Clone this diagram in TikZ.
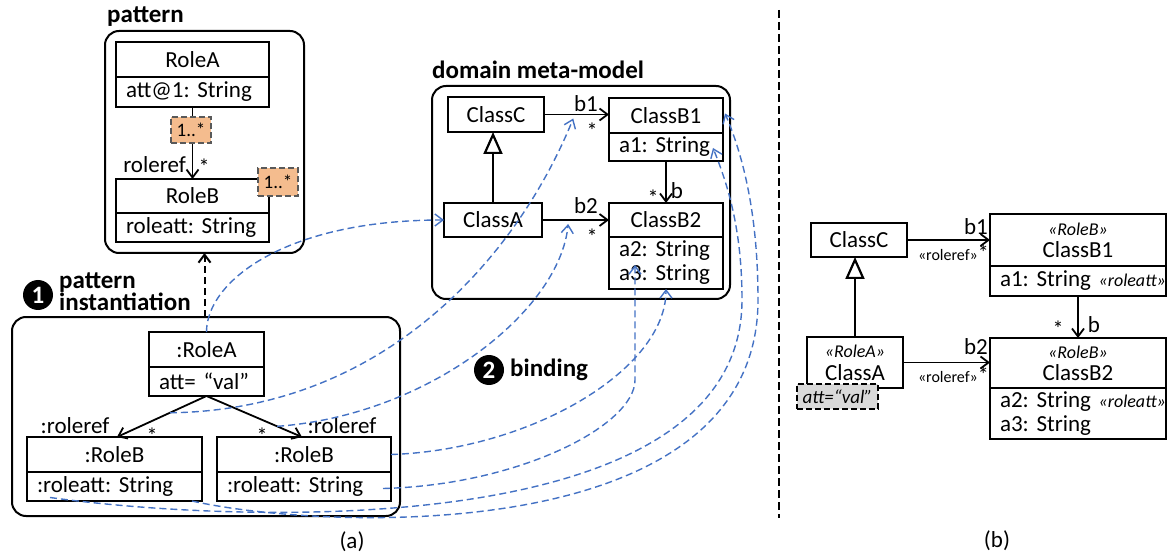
\documentclass[tikz,border=0pt]{standalone}
\usepackage{fontspec}
\setmainfont{Carlito}
\usetikzlibrary{arrows.meta,calc}
\frenchspacing
\definecolor{bindblue}{HTML}{4472C4}
\definecolor{multfill}{HTML}{F4BC8E}
\definecolor{multedge}{HTML}{595959}
\definecolor{valfill}{HTML}{D9D9D9}
\newcommand\fnReg{\fontsize{23}{26}\selectfont}
\newcommand\fnAttr{\fontsize{23}{24}\selectfont}
\newcommand\fnHead{\fontsize{25}{22}\selectfont\bfseries}
\newcommand\fnStereo{\fontsize{18}{20}\selectfont\itshape}
\newcommand\fnVal{\fontsize{19}{20}\selectfont\itshape}
\newcommand\fnRef{\fontsize{16}{18}\selectfont}
\newcommand\fnMult{\fontsize{19}{20}\selectfont}
\newcommand\fnStar{\fontsize{22}{24}\selectfont}
\begin{document}
\begin{tikzpicture}[x=1pt, y=-1pt,
  cbox/.style={draw, line width=2.6pt, inner sep=0pt, outer sep=0pt, anchor=north west, font=\fnReg, fill=white},
  attrbox/.style={cbox, align=left, inner xsep=10pt, font=\fnAttr},
  stereobox/.style={cbox, align=center},
  cont/.style={draw, line width=2pt, rounded corners=14pt, anchor=north west, inner sep=0pt, outer sep=0pt},
  lbl/.style={inner sep=0pt, font=\fnReg},
  starlbl/.style={inner sep=0pt, font=\fnStar},
  head/.style={inner sep=0pt, font=\fnHead},
  multbox/.style={draw=multedge, fill=multfill, line width=2.4pt, dash pattern=on 6pt off 3pt, minimum width=40pt, minimum height=26pt, inner sep=0pt, font=\fnMult},
  valbox/.style={cbox, fill=valfill, dash pattern=on 6pt off 3pt, font=\fnVal},
  assoc/.style={line width=1.8pt, -{Straight Barb[length=8pt,width=12pt]}},
  gen/.style={line width=1.8pt, -{Triangle[length=22pt,width=19pt,fill=white,line width=2.2pt]}},
  depline/.style={line width=2pt, dash pattern=on 7pt off 4pt, -{Straight Barb[length=8pt,width=12pt]}},
  divider/.style={line width=2.3pt, dash pattern=on 8pt off 4pt},
  bind/.style={draw=bindblue, line width=1.4pt, dash pattern=on 7pt off 4pt, -{Straight Barb[length=8pt,width=12pt]}},
  numc/.style={circle, fill=black, text=white, minimum size=30pt, inner sep=0pt, font=\fnHead},
]
\useasboundingbox (0,0) rectangle (1168,556);

% ---------- pattern ----------
\node[head, anchor=base west] (patLbl) at (107,23) {pattern};
\node[cont, minimum width=199pt, minimum height=222pt] (patBox) at (105,31) {};
\node[cbox, minimum width=153pt, minimum height=35pt] (pRAn) at (116,42) {RoleA};
\node[attrbox, minimum width=153pt, minimum height=30pt, text width=133pt] (pRAa) at (116,77) {att@1: String};
\node[cbox, minimum width=153pt, minimum height=34pt] (pRBn) at (116,179) {RoleB};
\node[attrbox, minimum width=153pt, minimum height=29pt, text width=133pt] (pRBa) at (116,213) {roleatt: String};
\draw[assoc] (pRAa.south) -- (pRBn.north);
\node[multbox] (m1) at (191,130) {1..*};
\node[multbox, minimum height=28pt] (m2) at (278,182) {1..*};
\node[lbl, anchor=east] (rrLbl) at (186,165) {roleref};
\node[starlbl] (rrStar) at (204,167) {*};

% ---------- pattern instantiation ----------
\node[numc] (n1) at (38,295) {1};
\node[head, anchor=base west] (instLbl1) at (59,288) {pattern};
\node[head, anchor=base west] (instLbl2) at (59,311) {instantiation};
\node[cont, minimum width=388pt, minimum height=199pt] (instBox) at (12,317) {};
\node[cbox, minimum width=115pt, minimum height=35pt] (iRAn) at (149,332) {:RoleA};
\node[attrbox, minimum width=115pt, minimum height=29pt, text width=95pt] (iRAa) at (149,367) {att= “val”};
\node[cbox, minimum width=175pt, minimum height=35pt] (iB1n) at (27,437) {:RoleB};
\node[attrbox, minimum width=175pt, minimum height=29pt, text width=155pt] (iB1a) at (27,472) {:roleatt: String};
\node[cbox, minimum width=174pt, minimum height=35pt] (iB2n) at (217,437) {:RoleB};
\node[attrbox, minimum width=174pt, minimum height=29pt, text width=154pt] (iB2a) at (217,472) {:roleatt: String};
\coordinate (iB1tip) at ($(iB1n.north west)+(90,0)$);
\coordinate (iB2tip) at ($(iB2n.north west)+(85,0)$);
\draw[assoc] (iRAa.south) -- (iB1tip);
\draw[assoc] (iRAa.south) -- (iB2tip);
\node[lbl] (irr1) at (75,426) {:roleref};
\node[starlbl] (is1) at (152,436) {*};
\node[starlbl] (is2) at (262,436) {*};
\node[lbl] (irr2) at (342,426) {:roleref};
\draw[depline] (patBox.south |- instBox.north) -- (patBox.south);

% ---------- domain meta-model ----------
\node[head, anchor=base west] (dmLbl) at (432,79) {domain meta-model};
\node[cont, minimum width=298pt, minimum height=213pt] (dmBox) at (432,86) {};
\node[cbox, minimum width=96pt, minimum height=35pt] (dC) at (448,97) {ClassC};
\node[cbox, minimum width=114pt, minimum height=35pt] (dB1n) at (609,98) {ClassB1};
\node[attrbox, minimum width=114pt, minimum height=28pt, text width=94pt] (dB1a) at (609,133) {a1: String};
\node[cbox, minimum width=98pt, minimum height=34pt] (dA) at (444,203) {ClassA};
\node[cbox, minimum width=114pt, minimum height=34pt] (dB2n) at (609,203) {ClassB2};
\node[attrbox, minimum width=114pt, minimum height=52pt, text width=94pt] (dB2a) at (609,237) {a2: String\\a3: String};
\draw[assoc] (dC.east) -- (dC.east -| dB1n.west);
\draw[assoc] (dA.east) -- (dA.east -| dB2n.west);
\draw[assoc] (dB1a.south) -- (dB1a.south |- dB2n.north);
\draw[gen] (dA.north) -- (dA.north |- dC.south);
\node[lbl] (lb1) at (586,104) {b1};
\node[starlbl] (sb1) at (592,131) {*};
\node[lbl] (lb2) at (586,206) {b2};
\node[starlbl] (sb2) at (592,237) {*};
\node[starlbl] (sbb) at (653,198) {*};
\node[lbl] (lbb) at (677,191) {b};

% ---------- binding ----------
\node[numc] (n2) at (489,370) {2};
\node[head, anchor=west] (bindLbl) at (510,370) {binding};

\path (iRAa.south) -- (iB1tip) coordinate[pos=0.41] (lnkB1);
\path (iRAa.south) -- (iB2tip) coordinate[pos=0.74] (lnkB2);
\path (dC.east) -- (dC.east -| dB1n.west) coordinate[pos=0.45] (b1mid);
\path (dA.east) -- (dA.east -| dB2n.west) coordinate[pos=0.39] (b2mid);
\coordinate (b1tip) at ($(b1mid)+(0,4)$);
\coordinate (b2tip) at ($(b2mid)+(0,4)$);
\coordinate (rattB2) at ($(iB2a.east)+(-8,2)$);
\coordinate (a2tip) at ($(dB2a.north west)+(26,28)$);
\coordinate (rattB1) at ($(iB1a.west)+(23,11)$);
\coordinate (a1tip) at ($(dB1a.north east)+(-10,15)$);
\coordinate (roleB1src) at ($(iB1a.south east)+(-10,0)$);
\coordinate (b1clsTip) at ($(dB1n.east)+(2,-2)$);

\draw[bind] (iRAn.north) .. controls +(0,-50) and +(-160,0) .. (dA.west);
\draw[bind] (lnkB1) .. controls (390,410) and (520,250) .. (b1tip);
\draw[bind] (lnkB2) .. controls (430,415) and (560,310) .. (b2tip);
\draw[bind] (iB2n.east) .. controls (530,450) and (666,370) .. (dB2a.south);
\draw[bind] (rattB2) .. controls (520,485) and (635,425) .. ($(a2tip)+(0,115)$) -- (a2tip);
\draw[bind] (rattB1) .. controls (250,525) and (742,540) .. (742,300) .. controls (742,230) and (728,185) .. (a1tip);
\draw[bind] (roleB1src) .. controls (320,530) and (758,550) .. (758,300) .. controls (758,220) and (745,160) .. (b1clsTip);

% ---------- divider ----------
\coordinate (divTop) at (779,10);
\coordinate (divBot) at (779,518);
\draw[divider] (divTop) -- (divBot);

% ---------- annotated domain model ----------
\node[cbox, minimum width=96pt, minimum height=34pt] (bC) at (811,223) {ClassC};
\node[stereobox, minimum width=176pt, minimum height=52pt] (bB1n) at (990,214) {{\fnStereo «RoleB»}\\[-4pt]ClassB1};
\node[attrbox, minimum width=176pt, minimum height=30pt, text width=156pt] (bB1a) at (990,266) {\mbox{a1: String {\fnStereo «roleatt»}}};
\node[stereobox, minimum width=96pt, minimum height=51pt] (bA) at (807,337) {{\fnStereo «RoleA»}\\[-3pt]ClassA};
\node[stereobox, minimum width=176pt, minimum height=50pt] (bB2n) at (990,338) {{\fnStereo «RoleB»}\\[-4pt]ClassB2};
\node[attrbox, minimum width=176pt, minimum height=51pt, text width=156pt] (bB2a) at (990,388) {\mbox{a2: String {\fnStereo «roleatt»}}\\a3: String};
\draw[assoc] (bC.east) -- (bC.east -| bB1n.west);
\draw[assoc] (bA.east) -- (bA.east -| bB2n.west);
\draw[assoc] (bB1a.south) -- (bB1a.south |- bB2n.north);
\draw[gen] (bA.north) -- (bA.north |- bC.south);
\node[valbox, minimum width=81pt, minimum height=25pt] (bAv) at (797,384) {att=“val”};
\node[lbl] (bb1) at (976,227) {b1};
\node[inner sep=0pt, font=\fnRef, anchor=east] (bref1) at (989,253) {«roleref»{\fnStar*}};
\node[lbl] (bb2) at (976,347) {b2};
\node[inner sep=0pt, font=\fnRef, anchor=east] (bref2) at (989,375) {«roleref»{\fnStar*}};
\node[starlbl] (bbs) at (1058,329) {*};
\node[lbl] (bbb) at (1094,325) {b};

% ---------- captions ----------
\node[lbl] (capA) at (352,542) {(a)};
\node[lbl] (capB) at (997,541) {(b)};
\end{tikzpicture}
\end{document}
